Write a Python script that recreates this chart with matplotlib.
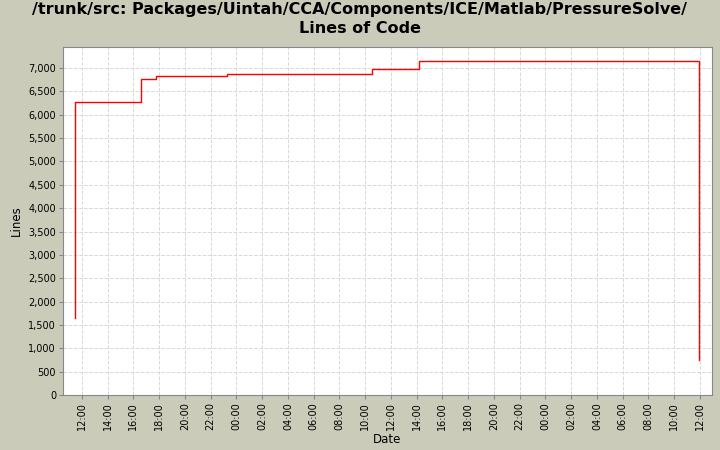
import matplotlib
matplotlib.use("Agg")
import matplotlib.pyplot as plt
import matplotlib.dates as mdates
import pandas as pd

times = ["2000-01-01 11:27", "2000-01-01 11:28", "2000-01-01 16:35", "2000-01-01 17:45",
         "2000-01-01 23:16", "2000-01-02 10:32", "2000-01-02 14:10", "2000-01-03 11:55",
         "2000-01-03 11:56"]
lines = [1650, 6280, 6760, 6820, 6880, 6970, 7140, 7140, 750]
yticks = list(range(0, 7001, 500))

t = pd.to_datetime(times)
bg = "#cbcbb9"
fig = plt.figure(figsize=(7.2, 4.5), dpi=100, facecolor=bg)
ax = fig.add_axes([0.0875, 0.122, 0.9014, 0.7736])
ax.step(t, lines, where="post", color="red", lw=1)
ax.set_xlim(pd.Timestamp("2000-01-01 10:32"), pd.Timestamp("2000-01-03 12:56"))
ax.set_ylim(0, 7450)
ax.set_yticks(yticks)
ax.set_yticklabels([f"{v:,}" for v in yticks], fontsize=7)
ax.xaxis.set_major_locator(mdates.HourLocator(byhour=range(0, 24, 2)))
ax.xaxis.set_major_formatter(mdates.DateFormatter("%H:%M"))
plt.setp(ax.get_xticklabels(), rotation=90, fontsize=7)
ax.grid(True, color="#d8d8d8", ls="--", lw=0.7)
for s in ax.spines.values():
    s.set_color("#888888")
ax.tick_params(length=3, color="#888888", pad=2)
ax.set_xlabel("Date", fontsize=8.5, labelpad=2)
ax.set_ylabel("Lines", fontsize=8.5)
fig.suptitle("/trunk/src: Packages/Uintah/CCA/Components/ICE/Matlab/PressureSolve/\nLines of Code",
             fontsize=11.5, fontweight="bold", y=0.995, linespacing=1.3)
fig.savefig("out.png", dpi=100, facecolor=bg)
